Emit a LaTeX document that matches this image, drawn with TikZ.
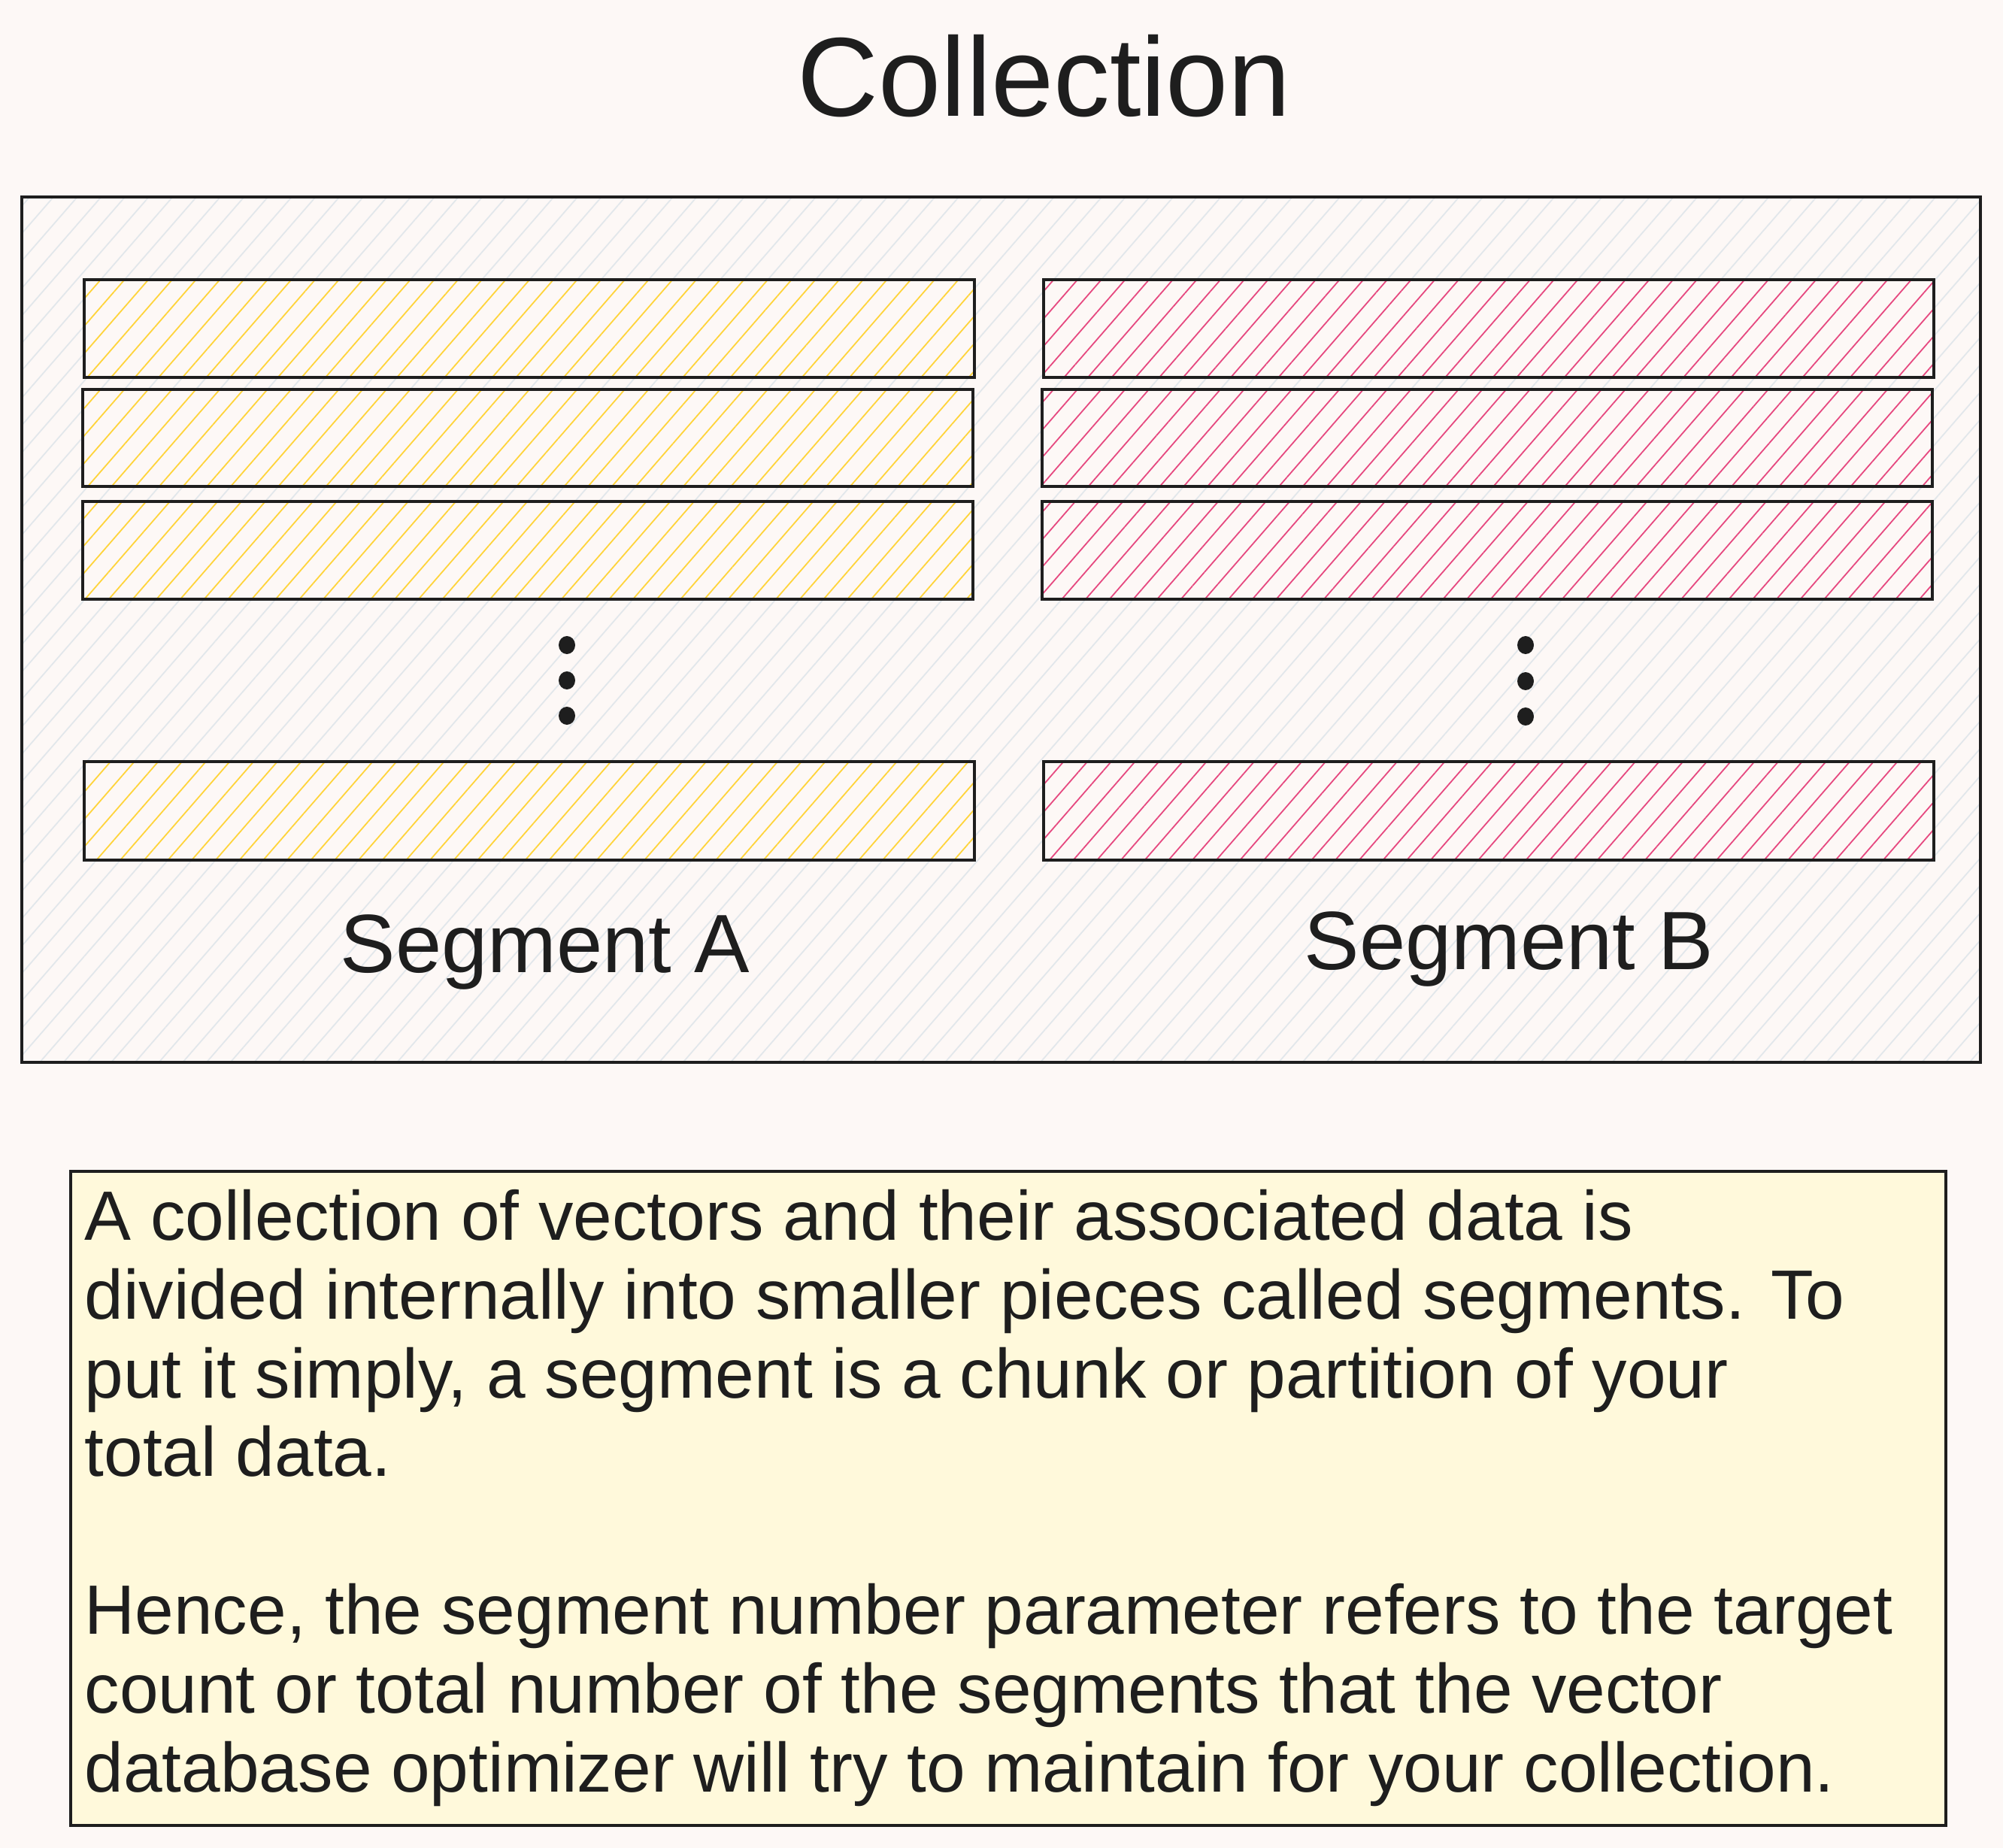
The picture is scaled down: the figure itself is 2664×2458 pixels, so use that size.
\documentclass[tikz,border=0pt]{standalone}
\usepackage{fontspec}
\setmainfont{Liberation Sans}
\usetikzlibrary{patterns.meta}

\definecolor{paper}{HTML}{FDF8F6}
\definecolor{ink}{HTML}{1E1E1E}
\definecolor{hatchgrey}{HTML}{E2E7EB}
\definecolor{hatchyellow}{HTML}{FFD43B}
\definecolor{hatchpink}{HTML}{E64980}
\definecolor{notefill}{HTML}{FFF9DB}

\tikzset{
    frame/.style = {
        draw=ink,
        line width=1.35pt,
        pattern={Lines[angle=49,distance=0.239cm,line width=0.018cm]},
        pattern color=hatchgrey
    },
    barA/.style = {
        draw=ink,
        line width=1.35pt,
        preaction={fill=paper},
        pattern={Lines[angle=49,distance=0.239cm,line width=0.018cm]},
        pattern color=hatchyellow
    },
    barB/.style = {
        barA,
        pattern color=hatchpink
    },
    dot/.style = {
        fill=ink
    },
    notebox/.style = {
        draw=ink,
        fill=notefill,
        line width=1.35pt
    },
    heading/.style = {
        anchor=base,
        inner sep=0pt,
        text=ink,
        font=\fontsize{42.5}{50}\selectfont
    },
    caption/.style = {
        anchor=base,
        inner sep=0pt,
        text=ink,
        font=\fontsize{31.3}{37}\selectfont
    },
    notetext/.style = {
        anchor=base west,
        inner sep=0pt,
        align=left,
        text=ink,
        font=\fontsize{26.4}{29.8}\selectfont
    }
}

\begin{document}
\begin{tikzpicture}[x=0.01cm,y=-0.01cm]
    % Draw paper
    \fill[paper] (0,0) rectangle (2664,2458);
    \useasboundingbox (0,0) rectangle (2664,2458);

    % Draw collection
    \draw[frame] (29,262) rectangle (2634,1413);

    % Draw segment A
    \draw[barA] (112,372) rectangle (1296,502);
    \draw[barA] (110,518) rectangle (1294,647);
    \draw[barA] (110,667) rectangle (1294,797);
    \draw[barA] (112,1013) rectangle (1296,1144);
    \fill[dot] (754,858) ellipse [x radius=0.11cm, y radius=0.12cm];
    \fill[dot] (754,905) ellipse [x radius=0.11cm, y radius=0.12cm];
    \fill[dot] (754,952) ellipse [x radius=0.11cm, y radius=0.12cm];

    % Draw segment B
    \draw[barB] (1388,372) rectangle (2572,502);
    \draw[barB] (1386,518) rectangle (2570,647);
    \draw[barB] (1386,667) rectangle (2570,797);
    \draw[barB] (1388,1013) rectangle (2572,1144);
    \fill[dot] (2029,858) ellipse [x radius=0.11cm, y radius=0.12cm];
    \fill[dot] (2029,906) ellipse [x radius=0.11cm, y radius=0.12cm];
    \fill[dot] (2029,953) ellipse [x radius=0.11cm, y radius=0.12cm];

    % Draw labels
    \node[heading] (title) at (1389,155) {Collection};
    \node[caption] (capA) at (725,1293) {Segment A};
    \node[caption] (capB) at (2007,1289) {Segment B};

    % Draw note (base anchor sits on the last line)
    \draw[notebox] (94,1558) rectangle (2588,2428);
    \node[notetext] (note) at (112,2383) {A collection of vectors and their associated data is\\
        divided internally into smaller pieces called segments. To\\
        put it simply, a segment is a chunk or partition of your\\
        total data.\\[29.8pt]
        Hence, the segment number parameter refers to the target\\
        count or total number of the segments that the vector\\
        database optimizer will try to maintain for your collection.};
\end{tikzpicture}
\end{document}
